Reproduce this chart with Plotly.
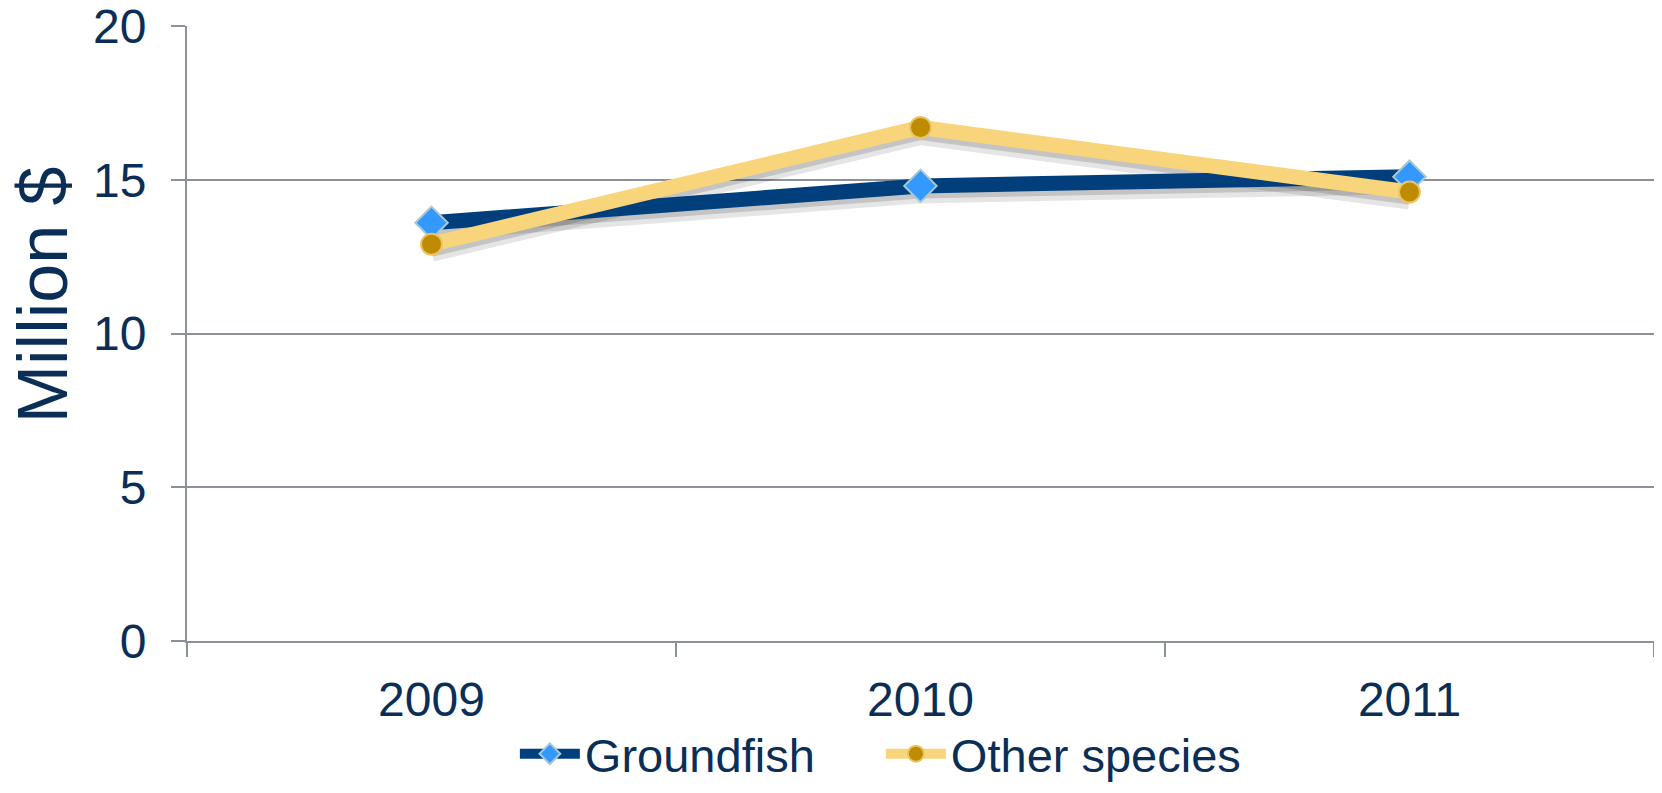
import plotly.graph_objects as go

years = ["2009", "2010", "2011"]
groundfish = [13.6, 14.8, 15.1]
other_species = [12.9, 16.7, 14.6]
y_ticks = [0, 5, 10, 15, 20]

TEXT = "#0B2E57"
GRID = "#8C9099"
FONT = "Liberation Sans, Arial, sans-serif"

plot_h = 615
shift_a = 5 * 20 / plot_h
shift_b = 8 * 20 / plot_h

fig = go.Figure()

# invisible trace that anchors the main (visible) axes
fig.add_trace(go.Scatter(
    x=years, y=groundfish, mode="lines", yaxis="y",
    line=dict(color="rgba(0,0,0,0)", width=1),
    showlegend=False, hoverinfo="skip"))

# soft drop shadows (drawn on lower overlay axes)
for vals in (groundfish, other_species):
    fig.add_trace(go.Scatter(
        x=years, y=vals, mode="lines", yaxis="y2",
        line=dict(color="rgba(0,0,0,0.10)", width=19),
        showlegend=False, hoverinfo="skip"))
    fig.add_trace(go.Scatter(
        x=years, y=vals, mode="lines", yaxis="y3",
        line=dict(color="rgba(0,0,0,0.14)", width=15),
        showlegend=False, hoverinfo="skip"))

fig.add_trace(go.Scatter(
    x=years, y=groundfish, mode="lines+markers", name="Groundfish",
    yaxis="y4",
    line=dict(color="#003F7C", width=15),
    marker=dict(symbol="diamond", size=25, color="#3399FF",
                line=dict(color="#A7C8D6", width=2))))

fig.add_trace(go.Scatter(
    x=years, y=other_species, mode="lines+markers", name="Other species",
    yaxis="y4",
    line=dict(color="#F8D57A", width=15),
    marker=dict(symbol="circle", size=21, color="#BF8B00",
                line=dict(color="#E9C566", width=2))))

fig.add_annotation(
    text="Million $", textangle=-90, xref="paper", yref="paper",
    x=-0.0985, y=0.563, xanchor="center", yanchor="middle", showarrow=False,
    font=dict(family=FONT, size=70, color=TEXT))

fig.update_layout(
    width=1646, height=777,
    margin=dict(l=179, r=0, t=18, b=144, autoexpand=False),
    paper_bgcolor="white", plot_bgcolor="white",
    font=dict(family=FONT, color=TEXT, size=48),
    showlegend=True,
    legend=dict(orientation="h", x=0.2235, y=-0.184, xanchor="left",
                yanchor="middle", font=dict(size=47, color=TEXT),
                itemwidth=60, entrywidth=291, entrywidthmode="pixels",
                traceorder="normal"),
    xaxis=dict(type="category", range=[-0.5, 2.5], showgrid=False,
               showline=True, linecolor=GRID, linewidth=2, ticks="outside",
               tickson="boundaries", ticklen=14, tickcolor=GRID,
               tickwidth=2, ticklabelstandoff=15, ticklabeloverflow="allow",
               tickfont=dict(size=48, color=TEXT), zeroline=False),
    yaxis=dict(range=[0, 20], tickvals=y_ticks, showgrid=True,
               gridcolor=GRID, gridwidth=2, showline=True,
               linecolor=GRID, linewidth=2, ticks="outside", ticklen=14,
               tickcolor=GRID, tickwidth=2, ticklabelstandoff=15,
               ticklabeloverflow="allow",
               tickfont=dict(size=48, color=TEXT), zeroline=False),
    yaxis2=dict(range=[0 + shift_b, 20 + shift_b], overlaying="y",
                visible=False),
    yaxis3=dict(range=[0 + shift_a, 20 + shift_a], overlaying="y",
                visible=False),
    yaxis4=dict(range=[0, 20], overlaying="y", visible=False),
)

fig.write_html("out.html")
